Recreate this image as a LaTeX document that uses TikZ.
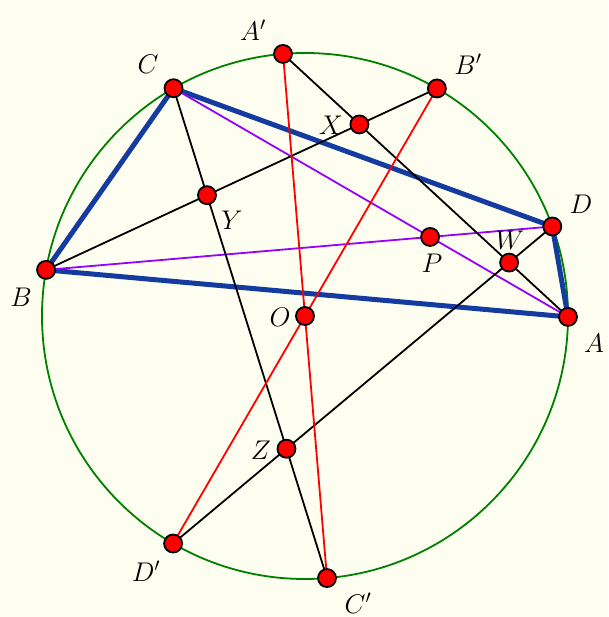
\RequirePackage{fix-cm}
\documentclass[tikz,border=0pt]{standalone}
\usetikzlibrary{calc}
\definecolor{bgcream}{RGB}{254,254,240}
\definecolor{quadblue}{RGB}{20,60,160}
\definecolor{diagpurple}{RGB}{150,0,255}
\definecolor{circgreen}{RGB}{0,128,0}
\begin{document}
\begin{tikzpicture}[x=1pt,y=1pt,
  dot/.style={circle,fill=red,draw=black,line width=1.8pt,inner sep=0pt,minimum size=18pt},
  lbl/.style={inner sep=0pt,font=\fontsize{27}{30}\selectfont},
  quad/.style={draw=quadblue,line width=5pt},
  diag/.style={draw=diagpurple,line width=1.8pt},
  blk/.style={draw=black,line width=1.8pt},
  rd/.style={draw=red,line width=1.8pt}]
\fill[bgcream] (-305,-301) rectangle (303,316);
\useasboundingbox (-305,-301) rectangle (303,316);
\def\R{263}
\coordinate (O) at (0,0);
\coordinate (A) at (-0.2:\R);
\coordinate (B) at (169.9:\R);
\coordinate (C) at (120:\R);
\coordinate (D) at (19.9:\R);
\coordinate (Ap) at (94.8:\R);
\coordinate (Bp) at (59.9:\R);
\coordinate (Cp) at (-85.2:\R);
\coordinate (Dp) at (239.9:\R);
\coordinate (X) at (intersection of Ap--A and Bp--B);
\coordinate (Y) at (intersection of Bp--B and C--Cp);
\coordinate (Z) at (intersection of C--Cp and D--Dp);
\coordinate (W) at (intersection of D--Dp and Ap--A);
\coordinate (P) at (intersection of A--C and B--D);
\draw[circgreen,line width=1.8pt] (O) circle (\R);
\draw[quad,line join=round] (B) -- (C) -- (D) -- (A) -- cycle;
\draw[diag] (C) -- (A);
\draw[diag] (B) -- (D);
\draw[blk] (Ap) -- (A);
\draw[blk] (Bp) -- (B);
\draw[blk] (C) -- (Cp);
\draw[blk] (D) -- (Dp);
\draw[rd] (Ap) -- (Cp);
\draw[rd] (Bp) -- (Dp);
\foreach \p in {A,B,C,D,Ap,Bp,Cp,Dp,O,X,Y,Z,W,P}
  \node[dot] (dot\p) at (\p) {};
\node[lbl] (lA) at (289,-27) {$A$};
\node[lbl] (lB) at (-284,19) {$B$};
\node[lbl] (lC) at (-157,252) {$C$};
\node[lbl] (lD) at (276,112) {$D$};
\node[lbl] (lAp) at (-52,286) {$A'$};
\node[lbl] (lBp) at (163,252) {$B'$};
\node[lbl] (lCp) at (53,-287) {$C'$};
\node[lbl] (lDp) at (-159,-255) {$D'$};
\node[lbl] (lO) at (-25,-1) {$O$};
\node[lbl] (lX) at (26,191) {$X$};
\node[lbl] (lY) at (-73,96) {$Y$};
\node[lbl] (lZ) at (-44,-134) {$Z$};
\node[lbl] (lW) at (205,76) {$W$};
\node[lbl] (lP) at (127,53) {$P$};
\end{tikzpicture}
\end{document}
